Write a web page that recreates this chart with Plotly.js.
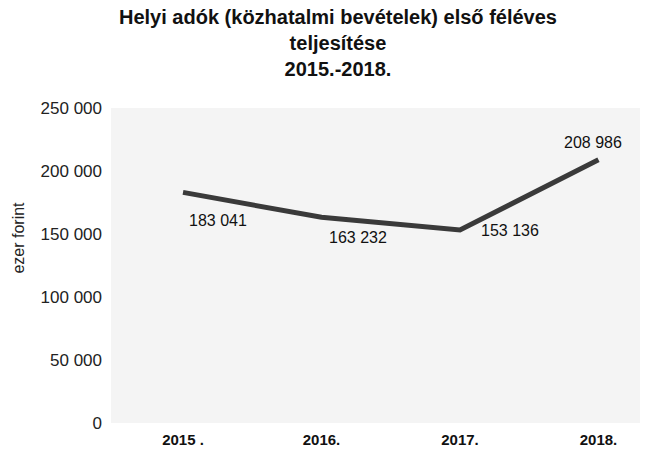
<!DOCTYPE html>
<html>
<head>
<meta charset="utf-8">
<script src="https://cdn.plot.ly/plotly-3.0.1.min.js"></script>
<style>html,body{margin:0;padding:0;background:#fff;}#chart{width:653px;height:458px;}</style>
</head>
<body>
<div id="chart"></div>
<script>
const categories = ["2015 .", "2016.", "2017.", "2018."];
const values = [183041, 163232, 153136, 208986];
const valueLabels = ["183 041", "163 232", "153 136", "208 986"];
const yTickValues = [0, 50000, 100000, 150000, 200000, 250000];
const yTickLabels = ["0", "50 000", "100 000", "150 000", "200 000", "250 000"];
const labelXShift = [35, 37, 50, -5];
const labelYShift = [-28, -20, 0, 17];

const FONT = "Liberation Sans, Arial, sans-serif";

const trace = {
  x: categories,
  y: values,
  type: "scatter",
  mode: "lines",
  line: {color: "#3a3a3a", width: 5},
  hoverinfo: "none"
};

const labelAnnotations = categories.map((c, i) => ({
  x: i, y: values[i], xref: "x", yref: "y",
  text: valueLabels[i], showarrow: false,
  xanchor: "center", yanchor: "middle",
  xshift: labelXShift[i], yshift: labelYShift[i],
  font: {family: FONT, size: 16, color: "#111"}
}));

const layout = {
  width: 653, height: 458,
  margin: {l: 111, r: 13, t: 108, b: 35},
  paper_bgcolor: "#ffffff",
  plot_bgcolor: "#f4f4f4",
  showlegend: false,
  xaxis: {
    type: "category",
    range: [-0.52, 3.3],
    showgrid: false, zeroline: false, showline: false,
    ticks: "", ticklen: 0, ticklabelstandoff: 6,
    tickfont: {family: FONT, size: 15, color: "#111", weight: "bold"}
  },
  yaxis: {
    range: [0, 250000],
    tickvals: yTickValues,
    ticktext: yTickLabels,
    showgrid: false, zeroline: false, showline: false,
    ticks: "", ticklabelstandoff: 8,
    tickfont: {family: FONT, size: 17, color: "#222"}
  },
  annotations: [{
    text: "<b>Helyi adók (közhatalmi bevételek) első féléves<br>teljesítése<br>2015.-2018.</b>",
    xref: "paper", yref: "paper",
    x: 0.43, y: 1.33, xanchor: "center", yanchor: "top",
    showarrow: false, align: "center",
    font: {family: FONT, size: 20, color: "#111"}
  }, {
    text: "ezer forint",
    xref: "paper", yref: "paper",
    x: -0.175, y: 0.59,
    xanchor: "center", yanchor: "middle",
    textangle: -90, showarrow: false,
    font: {family: FONT, size: 16, color: "#222"}
  }].concat(labelAnnotations)
};

Plotly.newPlot("chart", [trace], layout, {displayModeBar: false, staticPlot: true});
</script>
</body>
</html>
